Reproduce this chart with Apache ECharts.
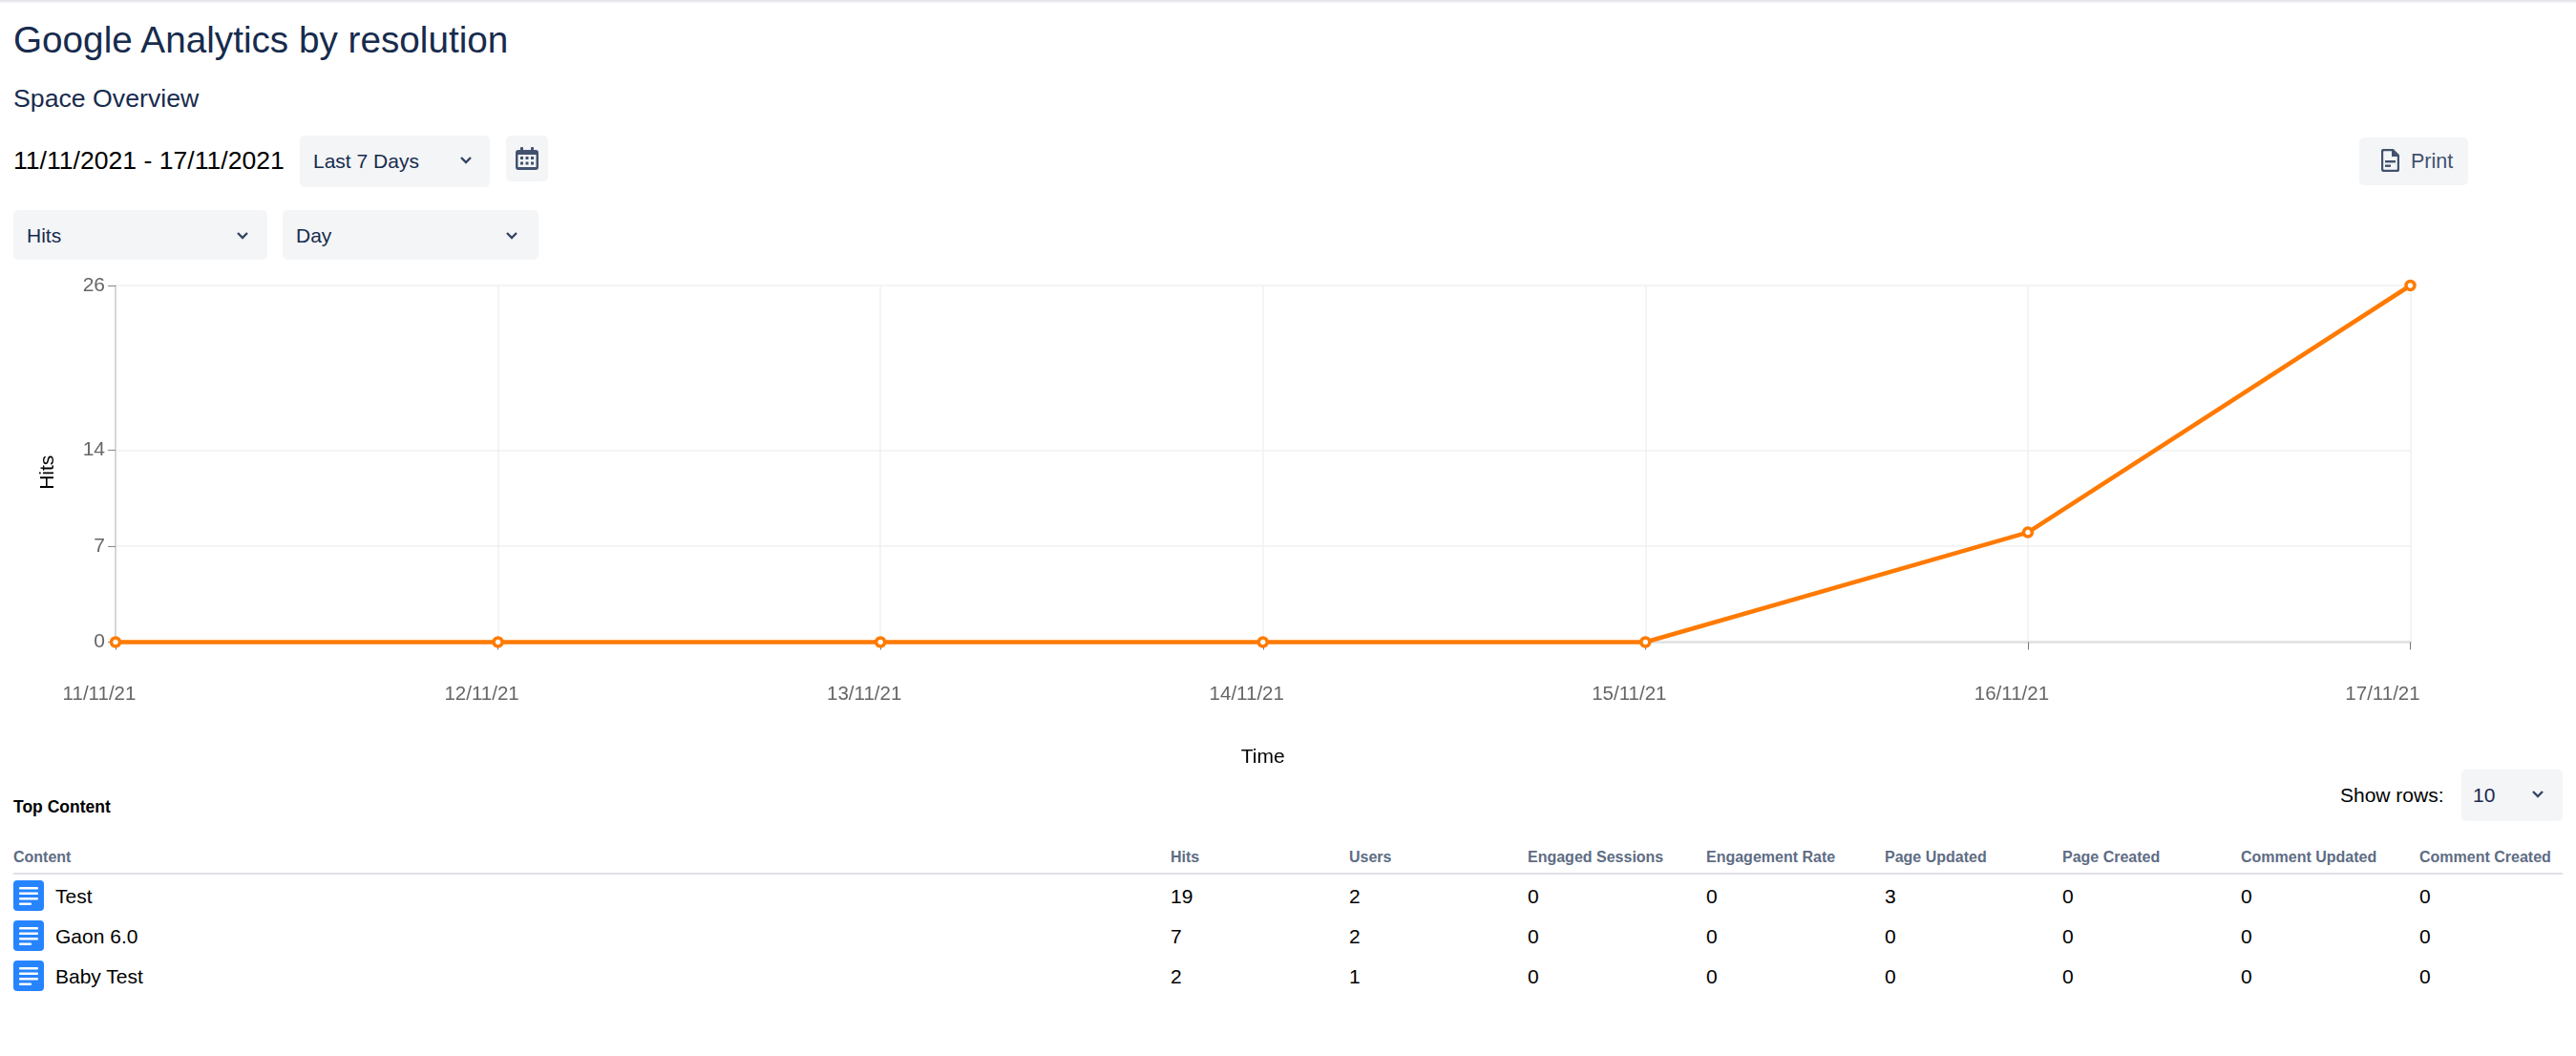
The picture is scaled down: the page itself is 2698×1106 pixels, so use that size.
<!DOCTYPE HTML>
<html>
<head>
<title>Google Analytics by resolution</title>
<meta charset="utf-8">
<script src="https://cdn.jsdelivr.net/npm/echarts@6/dist/echarts.min.js"></script>
<style>
html, body { margin: 0; padding: 0; background: #fff; overflow: hidden; }
body { position: relative; width: 2698px; height: 1106px; font-family: "Liberation Sans", Arial, sans-serif; color: #000; }
#topline { position: absolute; left: 0; top: 0; width: 2698px; height: 4px; background: linear-gradient(#dfe1e6, #fff); }
#chart { position: absolute; left: 0; top: 280px; width: 2698px; height: 540px; }
.t { position: absolute; white-space: nowrap; line-height: 1; }
.box { position: absolute; background: #f4f5f7; border-radius: 5px; }
.sel { color: #172b4d; font-size: 21px; }
.chev { position: absolute; width: 14px; height: 10px; }
.head { font-size: 16px; font-weight: bold; color: #5e6c84; }
.cell { font-size: 21px; }
.rule { position: absolute; left: 14px; top: 914px; width: 2670px; height: 2px; background: #dfe1e6; }
</style>
</head>
<body>
<div id="topline"></div>
<div class="t" style="left:14px;top:23px;font-size:38.700px;color:#172b4d">Google Analytics by resolution</div>
<div class="t" style="left:14px;top:90px;font-size:26.700px;color:#172b4d">Space Overview</div>
<div class="t" style="left:14px;top:155px;font-size:26.600px">11/11/2021 - 17/11/2021</div>

<div class="box" style="left:314px;top:142px;width:199px;height:54px"></div>
<div class="t sel" style="left:328px;top:158px">Last 7 Days</div>
<svg class="chev" style="left:481px;top:163px" viewBox="0 0 14 10"><path d="M2 2 L7 7 L12 2" fill="none" stroke="#344563" stroke-width="2.4"/></svg>

<div class="box" style="left:530px;top:142px;width:44px;height:48px"></div>
<svg style="position:absolute;left:540px;top:154px" width="24" height="24" viewBox="0 0 24 24">
  <rect x="0" y="3" width="24" height="21" rx="3" fill="#42526e"/>
  <rect x="5" y="0" width="3" height="6" rx="1" fill="#42526e"/>
  <rect x="16" y="0" width="3" height="6" rx="1" fill="#42526e"/>
  <rect x="2.500" y="8" width="19" height="13" fill="#f4f5f7"/>
  <path d="M5 10h3v3H5zM10.500 10h3v3h-3zM16 10h3v3h-3zM5 15.500h3v3H5zM10.500 15.500h3v3h-3zM16 15.500h3v3h-3z" fill="#42526e"/>
</svg>

<div class="box" style="left:2471px;top:144px;width:114px;height:50px"></div>
<svg style="position:absolute;left:2494px;top:156px" width="19" height="24" viewBox="0 0 19 24">
  <path d="M3 1 H12 L18 7 V21 a2 2 0 0 1 -2 2 H3 a2 2 0 0 1 -2 -2 V3 a2 2 0 0 1 2 -2 Z" fill="none" stroke="#42526e" stroke-width="2.400"/>
  <path d="M11 1 L18 8 H11 Z" fill="#42526e"/>
  <rect x="4" y="12" width="11" height="2.400" fill="#42526e"/>
  <rect x="4" y="16.500" width="6" height="2.400" fill="#42526e"/>
</svg>
<div class="t" style="left:2525px;top:159px;font-size:21.500px;color:#42526e">Print</div>

<div class="box" style="left:14px;top:220px;width:266px;height:52px"></div>
<div class="t sel" style="left:28px;top:236px">Hits</div>
<svg class="chev" style="left:247px;top:242px" viewBox="0 0 14 10"><path d="M2 2 L7 7 L12 2" fill="none" stroke="#344563" stroke-width="2.4"/></svg>

<div class="box" style="left:296px;top:220px;width:268px;height:52px"></div>
<div class="t sel" style="left:310px;top:236px">Day</div>
<svg class="chev" style="left:529px;top:242px" viewBox="0 0 14 10"><path d="M2 2 L7 7 L12 2" fill="none" stroke="#344563" stroke-width="2.4"/></svg>

<div id="chart"></div>

<div class="t" style="left:14px;top:837px;font-size:17.500px;font-weight:bold">Top Content</div>
<div class="t" style="left:2451px;top:822px;font-size:21px">Show rows:</div>
<div class="box" style="left:2578px;top:806px;width:106px;height:54px"></div>
<div class="t sel" style="left:2590px;top:822px">10</div>
<svg class="chev" style="left:2651px;top:827px" viewBox="0 0 14 10"><path d="M2 2 L7 7 L12 2" fill="none" stroke="#344563" stroke-width="2.4"/></svg>

<div class="rule"></div>
<div id="table"></div>

<script>
var dates = ['11/11/21', '12/11/21', '13/11/21', '14/11/21', '15/11/21', '16/11/21', '17/11/21'];
var hits = [0, 0, 0, 0, 0, 8, 26];
var yTicks = [0, 7, 14, 26];

var columns = ['Content', 'Hits', 'Users', 'Engaged Sessions', 'Engagement Rate', 'Page Updated', 'Page Created', 'Comment Updated', 'Comment Created'];
var pages = ['Test', 'Gaon 6.0', 'Baby Test'];
var pageHits = [19, 7, 2];
var pageUsers = [2, 2, 1];
var pageEngagedSessions = [0, 0, 0];
var pageEngagementRate = [0, 0, 0];
var pageUpdated = [3, 0, 0];
var pageCreated = [0, 0, 0];
var commentUpdated = [0, 0, 0];
var commentCreated = [0, 0, 0];

// table, column offsets
var colX = [14, 1226, 1413, 1600, 1787, 1974, 2160, 2347, 2534];
var rowY = [938, 980, 1022];
var rowValues = [pages, pageHits, pageUsers, pageEngagedSessions, pageEngagementRate, pageUpdated, pageCreated, commentUpdated, commentCreated];
var pageIcon = '<rect width="32" height="32" rx="4" fill="#2684ff"/>' +
    '<rect x="6" y="7" width="20" height="2.500" rx="1" fill="#fff"/>' +
    '<rect x="6" y="12.500" width="20" height="2.500" rx="1" fill="#fff"/>' +
    '<rect x="6" y="18" width="20" height="2.500" rx="1" fill="#fff"/>' +
    '<rect x="6" y="23.500" width="13" height="2.500" rx="1" fill="#fff"/>';
var html = '';
for (var c = 0; c < columns.length; c++) {
    html += '<div class="t head" style="left:' + colX[c] + 'px;top:890px">' + columns[c] + '</div>';
    for (var r = 0; r < rowY.length; r++) {
        var left = c === 0 ? 58 : colX[c];
        html += '<div class="t cell" style="left:' + left + 'px;top:' + (rowY[r] - 10) + 'px">' + rowValues[c][r] + '</div>';
        if (c === 0) {
            html += '<svg style="position:absolute;left:14px;top:' + (rowY[r] - 16) + 'px" width="32" height="32" viewBox="0 0 32 32">' + pageIcon + '</svg>';
        }
    }
}
document.getElementById('table').innerHTML = html;

var myChart = echarts.init(document.getElementById('chart'));
myChart.setOption({
    animation: false,
    grid: { left: 121, right: 173.5, top: 19, bottom: 147.500 },
    xAxis: {
        type: 'category',
        boundaryGap: false,
        // labels sit left of their ticks, the last one further
        data: dates.map(function (d, i) {
            return { value: d, textStyle: { padding: [0, i === dates.length - 1 ? 58 : 34, 0, 0] } };
        }),
        name: 'Time',
        nameLocation: 'middle',
        nameGap: 110,
        nameTextStyle: { color: '#000', fontSize: 21, fontFamily: 'Liberation Sans' },
        axisLine: { lineStyle: { color: '#e4e4e4', width: 3 } },
        axisTick: { show: true, length: 8, lineStyle: { color: '#777', width: 1 } },
        axisLabel: { interval: 0, margin: 44, color: '#666', fontSize: 20.500, fontFamily: 'Liberation Sans', showMinLabel: true, showMaxLabel: true },
        splitLine: { show: true, lineStyle: { color: '#f0f0f0', width: 1.5 } }
    },
    yAxis: {
        type: 'value',
        min: 0,
        max: 26,
        name: 'Hits',
        nameLocation: 'middle',
        nameGap: 60,
        nameTextStyle: { color: '#000', fontSize: 21, fontFamily: 'Liberation Sans', padding: [0, 18, 0, 0] },
        axisLine: { show: true, lineStyle: { color: '#ccc', width: 1.5 } },
        axisTick: { show: true, length: 8, customValues: yTicks, lineStyle: { color: '#888', width: 1 } },
        axisLabel: { margin: 11, color: '#666', fontSize: 21, fontFamily: 'Liberation Sans', customValues: yTicks },
        splitLine: { show: true, lineStyle: { color: '#f0f0f0', width: 1.5 } }
    },
    series: [{
        type: 'line',
        data: hits,
        clip: false,
        symbol: 'circle',
        symbolSize: 9,
        showAllSymbol: true,
        lineStyle: { color: '#ff7a00', width: 4.5 },
        itemStyle: { color: '#fff', borderColor: '#ff7a00', borderWidth: 3.5 }
    }]
});
</script>
</body>
</html>
